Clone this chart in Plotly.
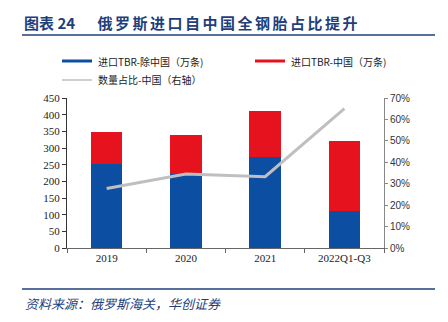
import plotly.graph_objects as go

categories = ["2019", "2020", "2021", "2022Q1-Q3"]
import_ex_china = [252, 222, 274, 112]
import_china = [97, 117, 137, 208]
china_share = [27.8, 34.5, 33.3, 65.0]

BLUE = "#0B4EA2"
RED = "#E6121D"
GRAY = "#BFBFBF"
TITLE_BLUE = "#1F3F7A"
SERIF = "Liberation Serif, Times New Roman, serif"
CJK = "Noto Sans CJK SC"

fig = go.Figure()
fig.add_trace(go.Bar(x=categories, y=import_ex_china, name="进口TBR-除中国（万条)",
                     marker=dict(color=BLUE, line=dict(width=0))))
fig.add_trace(go.Bar(x=categories, y=import_china, name="进口TBR-中国（万条)",
                     marker=dict(color=RED, line=dict(width=0))))
fig.add_trace(go.Scatter(x=categories, y=china_share, name="数量占比-中国（右轴）",
                         mode="lines", line=dict(color=GRAY, width=3), yaxis="y2"))

fig.update_layout(
    width=448, height=322,
    margin=dict(l=67, r=64, t=98, b=74),
    paper_bgcolor="white", plot_bgcolor="white",
    barmode="stack", bargap=0.6,
    showlegend=False,
    font=dict(family=SERIF, size=11, color="#222"),
    xaxis=dict(showline=True, linecolor="#666", linewidth=1, ticks="outside",
               tickson="boundaries", ticklen=4, tickcolor="#666",
               tickfont=dict(family=SERIF, size=11, color="#222")),
    yaxis=dict(range=[0, 450], dtick=50, showgrid=False, zeroline=False,
               showline=True, linecolor="#333", linewidth=1, ticks="outside",
               ticklen=4, tickcolor="#333",
               tickfont=dict(family=SERIF, size=11, color="#222")),
    yaxis2=dict(range=[0, 70], dtick=10, ticksuffix="%", overlaying="y", side="right",
                showgrid=False, zeroline=False, showline=True, linecolor="#888",
                linewidth=1, ticks="outside", ticklen=3, tickcolor="#888",
                tickfont=dict(family="Liberation Sans, Arial, sans-serif", size=10, color="#333")),
)

W, H = 448, 322
pw, ph = W - 67 - 64, H - 98 - 74


def px2x(px):
    return (px - 67) / pw


def py2y(py):
    return (H - 74 - py) / ph


# Title and rules
sp = "\u2006"
title_text = "图表 24" + "\u2003\u2002" + sp.join("俄罗斯进口自中国全钢胎占比提升")
fig.add_annotation(xref="paper", yref="paper", x=px2x(22), y=py2y(22), xanchor="left",
                   yanchor="middle", text="<b>" + title_text + "</b>",
                   showarrow=False, font=dict(family=CJK, size=15, color=TITLE_BLUE))
fig.add_shape(type="line", xref="paper", yref="paper", x0=px2x(22), x1=px2x(435),
              y0=py2y(35), y1=py2y(35), line=dict(color=TITLE_BLUE, width=1.5))

# Manual legend
legend_items = [
    (62, 61, BLUE, "进口TBR-除中国（万条)", 3),
    (255, 61, RED, "进口TBR-中国（万条)", 3),
    (62, 80, GRAY, "数量占比-中国（右轴）", 1.5),
]
for px, py, col, label, lw in legend_items:
    fig.add_shape(type="line", xref="paper", yref="paper", x0=px2x(px), x1=px2x(px + 30),
                  y0=py2y(py), y1=py2y(py), line=dict(color=col, width=lw))
    fig.add_annotation(xref="paper", yref="paper", x=px2x(px + 34), y=py2y(py), xanchor="left",
                       yanchor="middle", text=label, showarrow=False,
                       font=dict(family=CJK, size=10, color="#222"))

# Footer
fig.add_shape(type="line", xref="paper", yref="paper", x0=px2x(22), x1=px2x(435),
              y0=py2y(289), y1=py2y(289), line=dict(color=TITLE_BLUE, width=1.5))
fig.add_annotation(xref="paper", yref="paper", x=px2x(23), y=py2y(303),
                   xanchor="left", yanchor="middle", text="<i>资料来源：俄罗斯海关，华创证券</i>",
                   showarrow=False, font=dict(family=CJK, size=13, color=TITLE_BLUE))

fig.write_html("out.html")
